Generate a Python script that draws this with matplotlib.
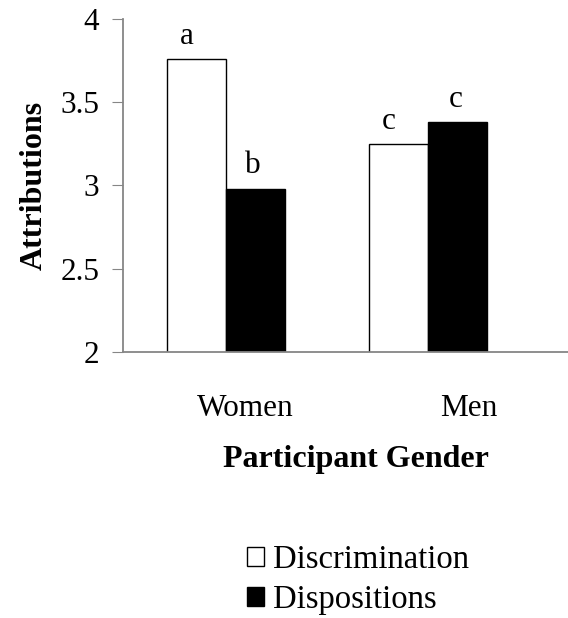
import numpy as np
import matplotlib.pyplot as plt
from matplotlib.patches import Patch

plt.rcParams['font.family'] = ['Liberation Serif', 'DejaVu Serif']

# data
genders = ['Women', 'Men']
discrimination = [3.76, 3.25]
dispositions = [2.98, 3.38]
disc_letters = ['a', 'c']
disp_letters = ['b', 'c']

x = np.arange(len(genders))
w = 0.29
axis_grey = '#868686'

fig = plt.figure(figsize=(5.68, 6.18), dpi=100)
ax = fig.add_axes([0.2165, 0.4304, 0.7835, 0.5389])

b1 = ax.bar(x - w / 2, discrimination, w, bottom=0, color='white',
            edgecolor='black', linewidth=1.0)
b2 = ax.bar(x + w / 2, dispositions, w, bottom=0, color='black',
            edgecolor='black', linewidth=1.0)

# significance letters
for i in range(len(genders)):
    ax.text(x[i] - w / 2 - 0.05, discrimination[i] + 0.05, disc_letters[i],
            ha='center', va='bottom', fontsize=22.5)
    ax.text(x[i] + w / 2 - 0.01, dispositions[i] + 0.05, disp_letters[i],
            ha='center', va='bottom', fontsize=22.5)

ax.set_ylim(2, 4)
ax.set_xlim(-0.51, 1.693)
ax.set_yticks([2, 2.5, 3, 3.5, 4])
ax.set_yticklabels(['2', '2.5', '3', '3.5', '4'])
ax.tick_params(axis='y', labelsize=22.5, length=8, color=axis_grey, pad=9)

# category labels sit slightly right of group centres, as in the original
label_shift = [0.095, 0.2]
ax.set_xticks(x + np.array(label_shift))
ax.set_xticklabels(genders)
ax.tick_params(axis='x', labelsize=22.5, length=0, pad=30)

for s in ['top', 'right']:
    ax.spines[s].set_visible(False)
for s in ['left', 'bottom']:
    ax.spines[s].set_color(axis_grey)
    ax.spines[s].set_linewidth(1.3)

ax.set_ylabel('Attributions', fontsize=23, fontweight='bold')
ax.yaxis.set_label_coords(-0.166, 0.5)
fig.text(356 / 568, 1 - 460 / 618, 'Participant Gender', fontsize=23,
         fontweight='bold', ha='center', va='center')

handles = [Patch(facecolor='white', edgecolor='black', linewidth=1.0),
           Patch(facecolor='black', edgecolor='black', linewidth=1.0)]
fig.legend(handles, ['Discrimination', 'Dispositions'], loc='upper left',
           bbox_to_anchor=(231 / 568, 1 - 528 / 618), frameon=False,
           fontsize=23.5, handlelength=0.5, handleheight=0.5,
           handletextpad=0.3, labelspacing=0.3, borderpad=0)

fig.savefig('out.png', dpi=100)
